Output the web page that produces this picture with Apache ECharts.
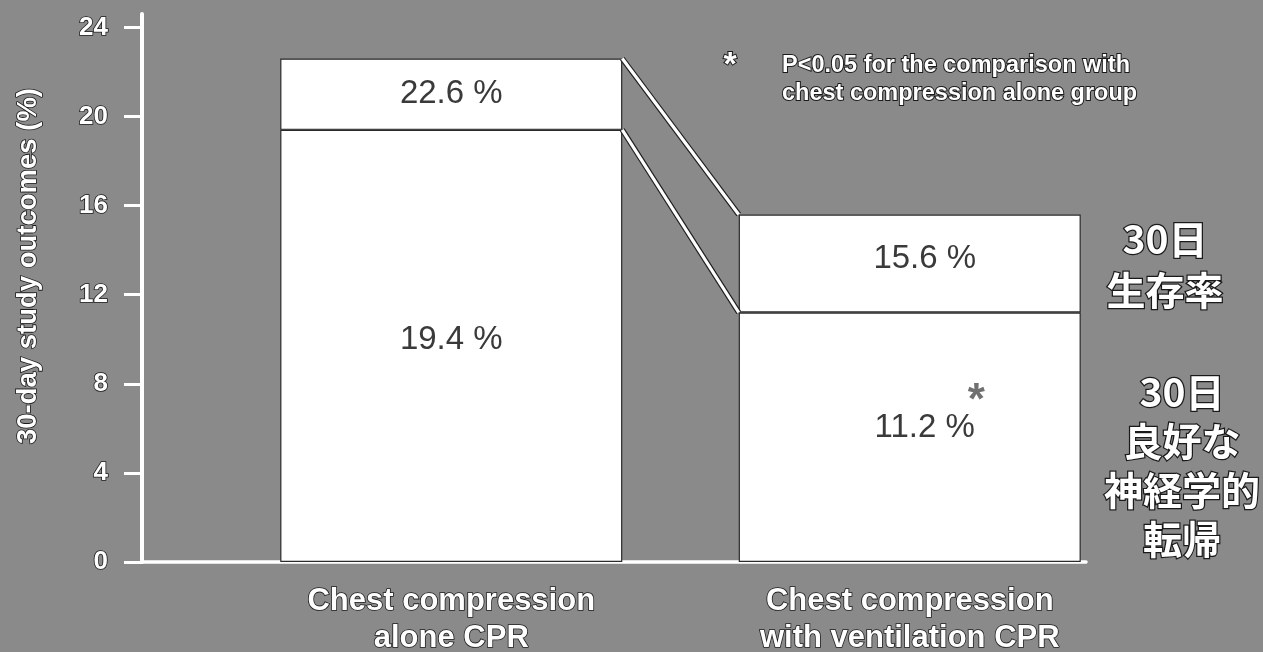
<!DOCTYPE html>
<html><head><meta charset="utf-8">
<script src="https://cdn.jsdelivr.net/npm/echarts@6/dist/echarts.min.js"></script>
<style>html,body{margin:0;padding:0;background:#8a8a8a}#c{width:1263px;height:652px}</style>
</head><body><div id="c"></div>
<script>
// ---- data ----
const categories = ['Chest compression\nalone CPR', 'Chest compression\nwith ventilation CPR'];
const neuroValues = [19.4, 11.2];      // 30-day favourable neurological outcome (%)
const survivalValues = [22.6, 15.6];   // 30-day survival (%)
const significant = [false, true];     // * P<0.05 vs chest compression alone
const yTicks = [0, 4, 8, 12, 16, 20, 24];
const yAxisName = '30-day study outcomes (%)';
const noteMark = '*';
const noteLines = ['P<0.05 for the comparison with', 'chest compression alone group'];
const survivalTag = ['30日', '生存率'];
const neuroTag = ['30日', '良好な', '神経学的', '転帰'];

// ---- layout / style ----
const Y_MAX = 24.6;
const BAR_FRAC = 0.746;
const SANS = '"Liberation Sans", Arial, sans-serif';
const CJK = '"Noto Sans CJK JP", "Noto Sans CJK SC", sans-serif';
const labelShift = [[0, 0, -6], [15, -5, -16]]; // per category: x shift, upper y, lower y

const upperValues = survivalValues.map((v, i) => +(v - neuroValues[i]).toFixed(1));
const fmt = v => v.toFixed(1) + ' %';

const outlineText = { color: '#fff', textBorderColor: '#1a1a1a', textBorderWidth: 1.6 };
const barLabelBase = { show: true, position: 'inside', color: '#3a3a3a', fontFamily: SANS, fontSize: 33 };

const lowerData = neuroValues.map((v, i) => ({
  value: v,
  label: {
    offset: [labelShift[i][0] + (significant[i] ? 5 : 0), labelShift[i][2]],
    formatter: significant[i] ? '{s|*}\n{v|' + fmt(v) + '}{g|}' : '{v|' + fmt(v) + '}'
  }
}));
const upperData = upperValues.map((v, i) => ({
  value: v,
  label: { offset: [labelShift[i][0], labelShift[i][1]], formatter: fmt(survivalValues[i]) }
}));

function renderConnector(params, api) {
  const a = api.coord([0, api.value(1)]);
  const b = api.coord([1, api.value(2)]);
  const half = api.size([1, 0])[0] * BAR_FRAC / 2;
  const shape = { x1: a[0] + half, y1: a[1], x2: b[0] - half, y2: b[1] };
  return { type: 'group', children: [
    { type: 'line', shape: shape, style: { stroke: '#1e1e1e', lineWidth: 5.5 } },
    { type: 'line', shape: shape, style: { stroke: '#ffffff', lineWidth: 3.2 } }
  ] };
}

function tagText(lines, x, y, lh) {
  return { type: 'text', x: x, y: y, z: 10, style: {
    text: lines.join('\n'), fill: '#fff', stroke: '#1a1a1a', lineWidth: 2.5, strokeFirst: true,
    font: 'bold 39px ' + CJK, fontSize: 39, fontWeight: 'bold', fontFamily: CJK,
    align: 'center', textAlign: 'center', verticalAlign: 'top', textVerticalAlign: 'top', lineHeight: lh
  } };
}

const chart = echarts.init(document.getElementById('c'), null, { renderer: 'canvas' });
chart.setOption({
  backgroundColor: '#8a8a8a',
  animation: false,
  grid: [
    { left: 142, right: 177, top: 14, bottom: 90, containLabel: false, outerBoundsMode: 'none' },
    { left: 222, right: 124, top: 14, bottom: 90, containLabel: false, outerBoundsMode: 'none' }
  ],
  xAxis: [
    { gridIndex: 0, type: 'value', min: 0, max: 1,
      axisLine: { show: true, lineStyle: { color: '#fff', width: 3.5 } },
      axisTick: { show: false }, axisLabel: { show: false }, splitLine: { show: false } },
    { gridIndex: 1, type: 'category', data: categories,
      axisLine: { show: false }, axisTick: { show: false },
      axisLabel: Object.assign({ interval: 0, margin: 21, fontFamily: SANS, fontWeight: 'bold',
        fontSize: 31, lineHeight: 37 }, outlineText) }
  ],
  yAxis: [
    { gridIndex: 0, type: 'value', min: 0, max: Y_MAX, interval: 4,
      axisLine: { show: true, lineStyle: { color: '#fff', width: 4 } },
      axisTick: { show: true, length: 18, customValues: yTicks, lineStyle: { color: '#fff', width: 3 } },
      axisLabel: Object.assign({ customValues: yTicks, margin: 34, fontFamily: SANS, fontWeight: 'bold', fontSize: 26 }, outlineText),
      splitLine: { show: false },
      name: yAxisName, nameLocation: 'middle', nameGap: 100,
      nameTextStyle: Object.assign({ fontFamily: SANS, fontWeight: 'bold', fontSize: 27.5, padding: [0, 0, 0, 44] }, outlineText) },
    { gridIndex: 1, type: 'value', min: 0, max: Y_MAX, show: false }
  ],
  series: [
    { type: 'bar', name: 'neuro', xAxisIndex: 1, yAxisIndex: 1, stack: 's', barWidth: (BAR_FRAC * 100) + '%',
      itemStyle: { color: '#fff', borderColor: '#2a2a2a', borderWidth: 1.2 },
      label: Object.assign({}, barLabelBase, { rich: {
        v: { fontFamily: SANS, fontSize: 33, color: '#3a3a3a', lineHeight: 38 },
        s: { fontFamily: SANS, fontSize: 44, color: '#707070', lineHeight: 14, align: 'right', fontWeight: 'bold' },
        g: { width: 10 }
      } }),
      data: lowerData },
    { type: 'bar', name: 'survival', xAxisIndex: 1, yAxisIndex: 1, stack: 's', barWidth: (BAR_FRAC * 100) + '%',
      itemStyle: { color: '#fff', borderColor: '#2a2a2a', borderWidth: 1.2 },
      label: Object.assign({}, barLabelBase),
      data: upperData },
    { type: 'custom', xAxisIndex: 1, yAxisIndex: 1, z: 5, renderItem: renderConnector,
      encode: { x: 0, y: [1, 2] },
      data: [[0, survivalValues[0], survivalValues[1]], [0, neuroValues[0], neuroValues[1]]] }
  ],
  graphic: [
    { type: 'text', x: 730, y: 66, z: 10, style: { text: noteMark, fill: '#fff', stroke: '#1a1a1a', lineWidth: 2, strokeFirst: true,
      font: 'bold 34px ' + SANS, align: 'center', textAlign: 'center', verticalAlign: 'middle', textVerticalAlign: 'middle' } },
    { type: 'text', x: 782, y: 52, z: 10, style: { text: noteLines.join('\n'), fill: '#fff', stroke: '#1a1a1a', lineWidth: 2, strokeFirst: true,
      font: 'bold 23.5px ' + SANS, lineHeight: 28, align: 'left', textAlign: 'left', verticalAlign: 'top', textVerticalAlign: 'top' } },
    tagText(survivalTag, 1165, 214, 51),
    tagText(neuroTag, 1182, 368, 49)
  ]
});
</script>
</body></html>
